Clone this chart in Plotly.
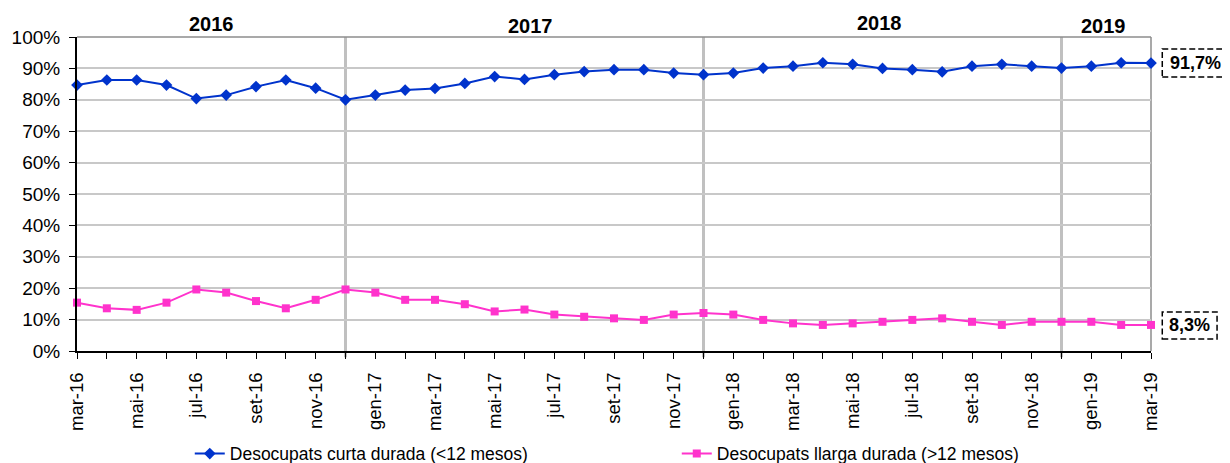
import plotly.graph_objects as go

months = ["mar-16","abr-16","mai-16","jun-16","jul-16","ago-16","set-16","oct-16","nov-16","des-16",
          "gen-17","feb-17","mar-17","abr-17","mai-17","jun-17","jul-17","ago-17","set-17","oct-17","nov-17","des-17",
          "gen-18","feb-18","mar-18","abr-18","mai-18","jun-18","jul-18","ago-18","set-18","oct-18","nov-18","des-18",
          "gen-19","feb-19","mar-19"]

curta = [84.7, 86.3, 86.3, 84.7, 80.4, 81.5, 84.2, 86.3, 83.7, 80.0,
         81.5, 83.1, 83.6, 85.2, 87.4, 86.5, 88.0, 89.0, 89.6, 89.6, 88.5, 88.0,
         88.5, 90.1, 90.7, 91.8, 91.3, 90.0, 89.6, 88.9, 90.7, 91.3, 90.7, 90.1,
         90.7, 91.8, 91.7]

llarga = [15.4, 13.6, 13.1, 15.4, 19.6, 18.6, 15.9, 13.6, 16.3, 19.6,
          18.6, 16.3, 16.3, 14.9, 12.6, 13.2, 11.6, 10.9, 10.4, 9.9, 11.6, 12.1,
          11.6, 9.9, 8.8, 8.3, 8.8, 9.3, 9.9, 10.4, 9.3, 8.3, 9.3, 9.3,
          9.3, 8.3, 8.3]

year_labels = ["2016", "2017", "2018", "2019"]
year_label_pos = [4.5, 15.2, 26.9, 34.4]
year_label_y = [1.041, 1.035, 1.046, 1.035]
separators = [9, 21, 33]

last_curta_label = "91,7%"
last_llarga_label = "8,3%"

x = list(range(len(months)))
ticktext = [m if i % 2 == 0 else "" for i, m in enumerate(months)]

BLUE = "#0033CC"
PINK = "#FF33CC"
FONT = "Liberation Sans, Arial, sans-serif"

fig = go.Figure()
fig.add_trace(go.Scatter(x=x, y=curta, mode="lines+markers", name="Desocupats curta durada (<12 mesos)",
                         line=dict(color=BLUE, width=2), marker=dict(symbol="diamond", size=9, color=BLUE),
                         cliponaxis=False))
fig.add_trace(go.Scatter(x=x, y=llarga, mode="lines+markers", name="Desocupats llarga durada (>12 mesos)",
                         line=dict(color=PINK, width=2), marker=dict(symbol="square", size=8, color=PINK),
                         cliponaxis=False))

shapes = []
for s in separators:
    shapes.append(dict(type="line", xref="x", yref="paper", x0=s, x1=s, y0=-0.02, y1=1.0,
                       line=dict(color="#C0C0C0", width=3), layer="below"))
# top and right border of plot area
shapes.append(dict(type="line", xref="paper", yref="paper", x0=0, x1=1, y0=1, y1=1,
                   line=dict(color="#8C8C8C", width=1.5), layer="below"))
shapes.append(dict(type="line", xref="paper", yref="paper", x0=1, x1=1, y0=0, y1=1,
                   line=dict(color="#8C8C8C", width=1.5), layer="below"))
# dashed boxes around end labels
shapes.append(dict(type="rect", xref="paper", yref="y", x0=1.0105, x1=1.0715,
                   y0=curta[-1] - 4.4, y1=curta[-1] + 4.5,
                   line=dict(color="black", width=1.5, dash="6px,3px"), fillcolor="white"))
shapes.append(dict(type="rect", xref="paper", yref="y", x0=1.0105, x1=1.0615,
                   y0=llarga[-1] - 4.5, y1=llarga[-1] + 4.1,
                   line=dict(color="black", width=1.5, dash="6px,3px"), fillcolor="white"))

annotations = []
for lbl, xp, yp in zip(year_labels, year_label_pos, year_label_y):
    annotations.append(dict(text=lbl, x=xp, y=yp, xref="x", yref="paper", showarrow=False,
                            font=dict(family=FONT, size=20, color="black", weight="bold"),
                            yanchor="middle"))
annotations.append(dict(text=last_curta_label, x=1.041, y=curta[-1], xref="paper", yref="y", showarrow=False,
                        xanchor="center", yanchor="middle",
                        font=dict(family=FONT, size=18, color="black", weight="bold")))
annotations.append(dict(text=last_llarga_label, x=1.036, y=llarga[-1], xref="paper", yref="y", showarrow=False,
                        xanchor="center", yanchor="middle",
                        font=dict(family=FONT, size=18, color="black", weight="bold")))

# page body has an 8px margin, so offsets are compensated here
fig.update_layout(
    width=1230, height=463,
    margin=dict(l=69, r=87, t=29, b=120, autoexpand=False),
    paper_bgcolor="white", plot_bgcolor="white",
    font=dict(family=FONT, color="black"),
    showlegend=True,
    legend=dict(orientation="h", x=0.105, y=-0.327, xanchor="left", yanchor="middle",
                font=dict(family=FONT, size=17.5, color="black"),
                entrywidth=442, entrywidthmode="pixels", bgcolor="rgba(0,0,0,0)"),
    shapes=shapes,
    annotations=annotations,
    xaxis=dict(range=[0, len(months) - 1], tickmode="array", tickvals=x, ticktext=ticktext,
               tickangle=-90, ticks="outside", ticklen=6, tickcolor="black", automargin=False,
               ticklabelstandoff=6,
               showline=True, linecolor="black", linewidth=2, showgrid=False, zeroline=False,
               tickfont=dict(family=FONT, size=18.5, color="black")),
    yaxis=dict(range=[0, 100], dtick=10, ticksuffix="%", ticks="outside", ticklen=6, tickcolor="black",
               ticklabelstandoff=5,
               showline=True, linecolor="black", linewidth=2, showgrid=True, gridcolor="#C8C8C8",
               gridwidth=1.5, zeroline=False, automargin=False,
               tickfont=dict(family=FONT, size=19, color="black")),
)

fig.write_html("out.html")
